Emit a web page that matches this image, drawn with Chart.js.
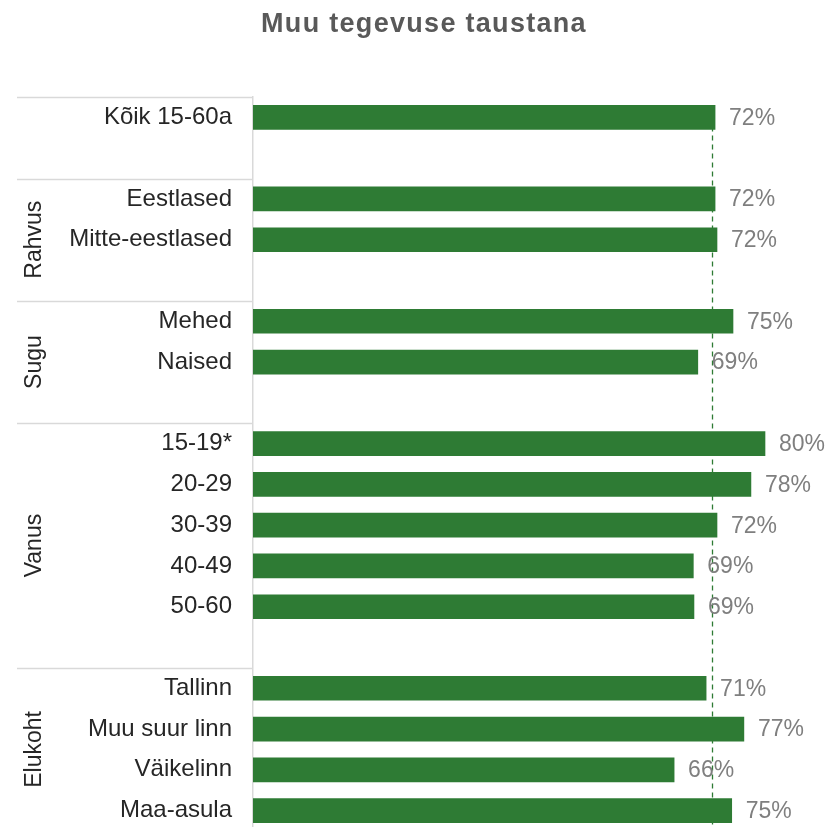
<!DOCTYPE html>
<html><head><meta charset="utf-8">
<script src="https://cdn.jsdelivr.net/npm/chart.js@4"></script>
<style>html,body{margin:0;padding:0;background:#fff;overflow:hidden}#wrap{width:833px;height:840px}</style>
</head><body><div id="wrap"><canvas id="c" width="833" height="840"></canvas></div>
<script>
const categories = ['Kõik 15-60a','', 'Eestlased','Mitte-eestlased','', 'Mehed','Naised','', '15-19*','20-29','30-39','40-49','50-60','', 'Tallinn','Muu suur linn','Väikelinn','Maa-asula'];
const values = [72.2,null, 72.2,72.5,null, 75.0,69.5,null, 80.0,77.8,72.5,68.8,68.9,null, 70.8,76.7,65.8,74.8];
const valueLabels = ['72%','', '72%','72%','', '75%','69%','', '80%','78%','72%','69%','69%','', '71%','77%','66%','75%'];
const groupNames = ['', 'Rahvus', 'Sugu', 'Vanus', 'Elukoht'];
const groupStart = [0, 2, 5, 8, 14];
const groupEnd = [1, 4, 7, 13, 17];
const referenceValue = 71.7;
const titleText = 'Muu tegevuse taustana';

const FONT = '"Liberation Sans", Arial, sans-serif';
const GREEN = '#2e7b34';

const deco = {
  id: 'deco',
  beforeDatasetsDraw(chart) {
    const {ctx, chartArea, scales:{x,y}} = chart;
    ctx.save();
    ctx.strokeStyle = GREEN; ctx.lineWidth = 1.3; ctx.setLineDash([5,4]);
    const rx = Math.round(x.getPixelForValue(referenceValue)) + 0.5;
    ctx.beginPath(); ctx.moveTo(rx, y.getPixelForValue(0)); ctx.lineTo(rx, chartArea.bottom); ctx.stroke();
    ctx.setLineDash([]);
    const band = (chartArea.bottom - chartArea.top) / categories.length;
    ctx.strokeStyle = '#d9d9d9'; ctx.lineWidth = 1.5;
    for (let g = 0; g < groupNames.length; g++) {
      const top = y.getPixelForValue(groupStart[g]) - band/2;
      const bot = y.getPixelForValue(groupEnd[g]) + band/2;
      ctx.beginPath(); ctx.moveTo(17, Math.round(top)+0.5); ctx.lineTo(chartArea.left, Math.round(top)+0.5); ctx.stroke();
      if (groupNames[g]) {
        ctx.save();
        ctx.translate(35, (top+bot)/2);
        ctx.rotate(-Math.PI/2);
        ctx.fillStyle = '#262626'; ctx.font = '23px ' + FONT;
        ctx.textAlign = 'center'; ctx.textBaseline = 'middle';
        ctx.fillText(groupNames[g], 0, 0);
        ctx.restore();
      }
    }
    ctx.fillStyle = '#595959'; ctx.font = 'bold 27px ' + FONT;
    try { ctx.letterSpacing = '1.3px'; } catch (e) {}
    ctx.textAlign = 'center'; ctx.textBaseline = 'middle';
    ctx.fillText(titleText, 424, 25);
    try { ctx.letterSpacing = '0px'; } catch (e) {}
    ctx.restore();
  },
  afterDatasetsDraw(chart) {
    const {ctx} = chart;
    const meta = chart.getDatasetMeta(0);
    ctx.save();
    ctx.fillStyle = '#7f7f7f'; ctx.font = '23px ' + FONT;
    ctx.textAlign = 'left'; ctx.textBaseline = 'middle';
    meta.data.forEach((bar, i) => {
      if (values[i] == null) return;
      ctx.fillText(valueLabels[i], bar.x + 14, bar.y + 1);
    });
    ctx.restore();
  }
};

new Chart(document.getElementById('c'), {
  type: 'bar',
  data: { labels: categories, datasets: [{ data: values, backgroundColor: GREEN, borderWidth: 0, barThickness: 24 }] },
  options: {
    indexAxis: 'y', responsive: false, animation: false,
    layout: { padding: { top: 97, bottom: 9, left: 0, right: 4 } },
    plugins: { legend: { display: false }, title: { display: false }, tooltip: { enabled: false } },
    scales: {
      x: { display: false, min: 0, max: 90 },
      y: {
        grid: { display: false },
        border: { display: true, color: '#d9d9d9', width: 1.5 },
        ticks: { color: '#262626', font: { size: 24, family: FONT }, padding: 13, autoSkip: false },
        afterFit(scale) { scale.width = 253; scale.paddingTop = 0; scale.paddingBottom = 0; }
      }
    }
  },
  plugins: [deco]
});
</script></body></html>
